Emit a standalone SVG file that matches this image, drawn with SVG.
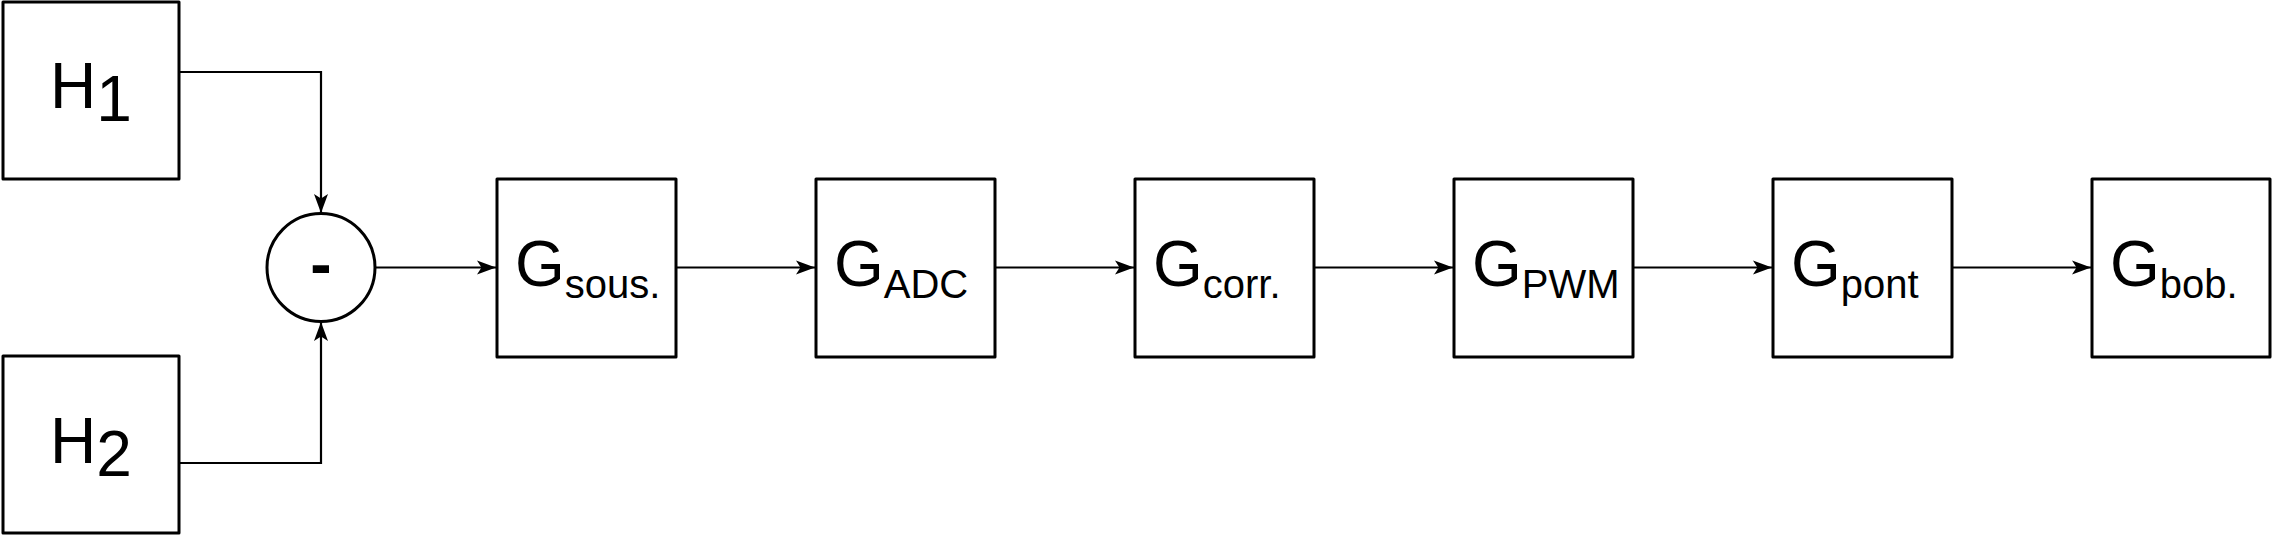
<svg xmlns="http://www.w3.org/2000/svg" width="2272" height="536" viewBox="0 0 2272 536">
<style>
.box{fill:#fff;stroke:#000;stroke-width:3;stroke-linejoin:round}
.lbl{font-family:"Liberation Sans",Arial,sans-serif;font-size:64px;fill:#000}
.sub{font-size:40px}
.conn{fill:none;stroke:#000;stroke-width:2.2}
</style>
<defs>
<marker id="arr" markerUnits="userSpaceOnUse" viewBox="0 0 20 15" refX="19" refY="7.5" markerWidth="20" markerHeight="15" orient="auto">
<path d="M19,7.5 L0,0.5 L4.5,7.5 L0,14.5 Z" fill="#000"/>
</marker>
</defs>
<rect width="2272" height="536" fill="#fff"/>
<g id="connectors">
<path class="conn" d="M179,72 H321 V213" marker-end="url(#arr)"/>
<path class="conn" d="M179,463 H321 V322" marker-end="url(#arr)"/>
<path class="conn" d="M375,267.5 H496" marker-end="url(#arr)"/>
<path class="conn" d="M676,267.5 H815" marker-end="url(#arr)"/>
<path class="conn" d="M995,267.5 H1134" marker-end="url(#arr)"/>
<path class="conn" d="M1314,267.5 H1453" marker-end="url(#arr)"/>
<path class="conn" d="M1633,267.5 H1772" marker-end="url(#arr)"/>
<path class="conn" d="M1952,267.5 H2091" marker-end="url(#arr)"/>
</g>
<g id="H1">
<rect class="box" x="3" y="2" width="176" height="177"/>
<text class="lbl" x="91" y="108" text-anchor="middle">H<tspan dy="13">1</tspan></text>
</g>
<g id="H2">
<rect class="box" x="3" y="356" width="176" height="177"/>
<text class="lbl" x="91" y="463" text-anchor="middle">H<tspan dy="13">2</tspan></text>
</g>
<g id="sum">
<circle class="box" cx="321" cy="267.5" r="54"/>
<text class="lbl" x="321" y="286" text-anchor="middle" font-weight="bold">-</text>
</g>
<g id="Gsous">
<rect class="box" x="497" y="179" width="179" height="178"/>
<text class="lbl" x="515" y="286">G<tspan class="sub" dy="12">sous.</tspan></text>
</g>
<g id="GADC">
<rect class="box" x="816" y="179" width="179" height="178"/>
<text class="lbl" x="834" y="286">G<tspan class="sub" dy="12">ADC</tspan></text>
</g>
<g id="Gcorr">
<rect class="box" x="1135" y="179" width="179" height="178"/>
<text class="lbl" x="1153" y="286">G<tspan class="sub" dy="12">corr.</tspan></text>
</g>
<g id="GPWM">
<rect class="box" x="1454" y="179" width="179" height="178"/>
<text class="lbl" x="1472" y="286">G<tspan class="sub" dy="12">PWM</tspan></text>
</g>
<g id="Gpont">
<rect class="box" x="1773" y="179" width="179" height="178"/>
<text class="lbl" x="1791" y="286">G<tspan class="sub" dy="12">pont</tspan></text>
</g>
<g id="Gbob">
<rect class="box" x="2092" y="179" width="178" height="178"/>
<text class="lbl" x="2110" y="286">G<tspan class="sub" dy="12">bob.</tspan></text>
</g>
</svg>
